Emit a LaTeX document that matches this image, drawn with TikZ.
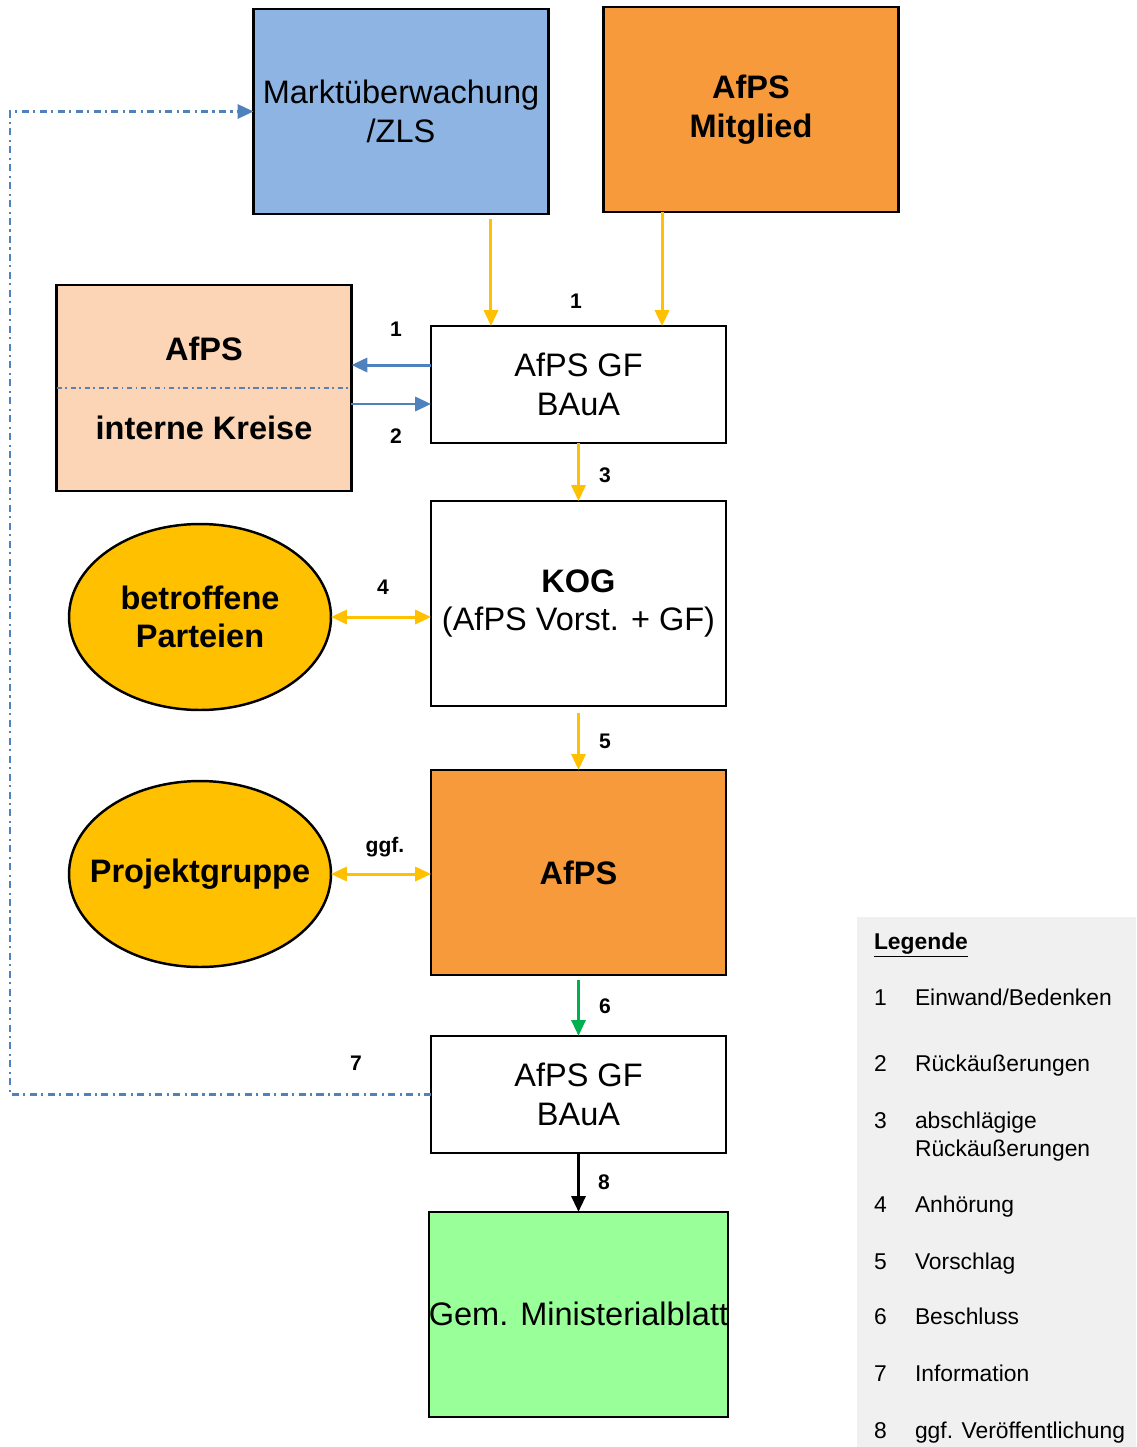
\documentclass[tikz,border=0pt]{standalone}
\usepackage{fontspec}
\setmainfont{Liberation Sans}
\usepackage{xcolor}
\usetikzlibrary{positioning,shapes.geometric,arrows.meta}
\definecolor{mueblue}{HTML}{8DB4E2}
\definecolor{afpsorange}{HTML}{F79A3B}
\definecolor{peach}{HTML}{FBD5B5}
\definecolor{gold}{HTML}{FFC000}
\definecolor{flowblue}{HTML}{4F81BD}
\definecolor{flowgreen}{HTML}{00B050}
\definecolor{mbgreen}{HTML}{99FF99}
\definecolor{leggray}{HTML}{F0F0F0}

\begin{document}
\begin{tikzpicture}[x=0.02cm, y=-0.02cm, outer sep=0pt, line width=1.4pt,
    box/.style={draw, rectangle, minimum width=5.9cm, minimum height=4.1cm, align=center, font=\fontsize{18.5}{22}\selectfont},
    boldbox/.style={box, font=\fontsize{18.5}{22}\selectfont\bfseries},
    gfbox/.style={box, minimum height=2.34cm},
    party/.style={draw, ellipse, fill=gold, inner sep=0pt, minimum width=5.24cm, minimum height=3.72cm, align=center, font=\fontsize{18.5}{22}\selectfont\bfseries},
    boldtext/.style={font=\fontsize{18.5}{22}\selectfont\bfseries},
    flow/.style={line width=1.7pt, -{Triangle[length=9pt,width=8pt]}},
    twoway/.style={line width=1.7pt, {Triangle[length=9pt,width=8pt]}-{Triangle[length=9pt,width=8pt]}},
    info/.style={flowblue, line width=1.4pt, dash pattern={on 4pt off 2.5pt on 1.2pt off 2.5pt}, -{Triangle[length=9pt,width=8pt]}},
    divider/.style={flowblue!80!gray, line width=0.9pt, dash pattern={on 3pt off 2pt on 1pt off 2pt}},
    num/.style={font=\fontsize{12}{14}\selectfont\bfseries},
    legnum/.style={anchor=base west, inner sep=0pt, font=\fontsize{13}{15.9}\selectfont},
    legtext/.style={legnum, align=left}]

    \useasboundingbox (0,0) rectangle (1136,1447);

    % sources on top
    \node [box, fill=mueblue] (mue) at (401,111.5) {Marktüberwachung\\/ZLS};
    \node [boldbox, fill=afpsorange] (mit) at (751,109.5) {AfPS\\Mitglied};

    % internal circles
    \node [box, fill=peach, minimum height=4.12cm] (intern) at (204,388) {};
    \draw [divider] (intern.west) -- (intern.east);
    \node [boldtext] (internA) at (204,349) {AfPS};
    \node [boldtext] (internB) at (204,428) {interne Kreise};

    % main column
    \node [gfbox] (gf1) at (578.5,384.5) {AfPS GF\\BAuA};
    \node [box, below=1.16cm of gf1] (kog) {\textbf{KOG}\\(AfPS Vorst. + GF)};
    \node [boldbox, fill=afpsorange, below=1.28cm of kog] (afps) {AfPS};
    \node [gfbox, below=1.22cm of afps] (gf2) {AfPS GF\\BAuA};
    \node [box, fill=mbgreen, inner xsep=0pt, below=1.18cm of gf2] (gmbl) {Gem. Ministerialblatt};

    % parties
    \node [party] (betr) at (200,617) {betroffene\\Parteien};
    \node [party] (proj) at (200,874) {\makebox[0pt][c]{Projektgruppe}};

    % connectors
    \coordinate (mueout) at ([xshift=1.8cm]mue.south);
    \coordinate (mitout) at ([xshift=-1.78cm]mit.south);
    \draw [flow, gold, shorten <=3pt] (mueout) -- (mueout |- gf1.north);
    \draw [flow, gold] (mitout) -- (mitout |- gf1.north);
    \coordinate (gfupper) at ([yshift=0.39cm]gf1.west);
    \coordinate (gflower) at ([yshift=-0.39cm]gf1.west);
    \draw [flow, flowblue] (gfupper) -- (gfupper -| intern.east);
    \draw [flow, flowblue] (gflower -| intern.east) -- (gflower);
    \draw [flow, gold] (gf1) -- (kog);
    \draw [twoway, gold] (betr.east) -- (betr.east -| kog.west);
    \draw [flow, gold, shorten <=4pt] (kog) -- (afps);
    \draw [twoway, gold] (proj.east) -- (proj.east -| afps.west);
    \draw [flow, flowgreen, shorten <=3pt] (afps) -- (gf2);
    \draw [flow] (gf2) -- (gmbl);
    \coordinate (edge) at (10,0);
    \draw [info] (gf2.west) -- (gf2.west -| edge) |- (mue.west);

    % step numbers
    \node [num] (ntop) at (576,301) {1};
    \node [num] (nleft) at (396,329) {1};
    \node [num] (ntwo) at (396,436) {2};
    \node [num] (nthree) at (605,475) {3};
    \node [num] (nfour) at (383,587) {4};
    \node [num] (nfive) at (605,741) {5};
    \node [num] (nggf) at (385,847) {ggf.};
    \node [num] (nsix) at (605,1006) {6};
    \node [num] (nseven) at (356,1063) {7};
    \node [num] (neight) at (604,1182) {8};

    % legend
    \node [fill=leggray, minimum width=5.58cm, minimum height=10.6cm, anchor=north west] (legend) at (857,917) {};
    \node [legnum, font=\fontsize{13}{15.9}\selectfont\bfseries] (legtitle) at (874,949) {\underline{Legende}};
    \node [legnum] (lone) at (874,1005) {1};
    \node [legtext] (tone) at (915,1005) {Einwand/Bedenken};
    \node [legnum] (ltwo) at (874,1071) {2};
    \node [legtext] (ttwo) at (915,1071) {Rückäußerungen};
    \node [legnum] (lthree) at (874,1128) {3};
    \node [legtext] (tthree) at (915,1156) {abschlägige\\Rückäußerungen};
    \node [legnum] (lfour) at (874,1212) {4};
    \node [legtext] (tfour) at (915,1212) {Anhörung};
    \node [legnum] (lfive) at (874,1269) {5};
    \node [legtext] (tfive) at (915,1269) {Vorschlag};
    \node [legnum] (lsix) at (874,1324) {6};
    \node [legtext] (tsix) at (915,1324) {Beschluss};
    \node [legnum] (lseven) at (874,1381) {7};
    \node [legtext] (tseven) at (915,1381) {Information};
    \node [legnum] (leight) at (874,1438) {8};
    \node [legtext] (teight) at (915,1438) {ggf. Veröffentlichung};

\end{tikzpicture}
\end{document}
